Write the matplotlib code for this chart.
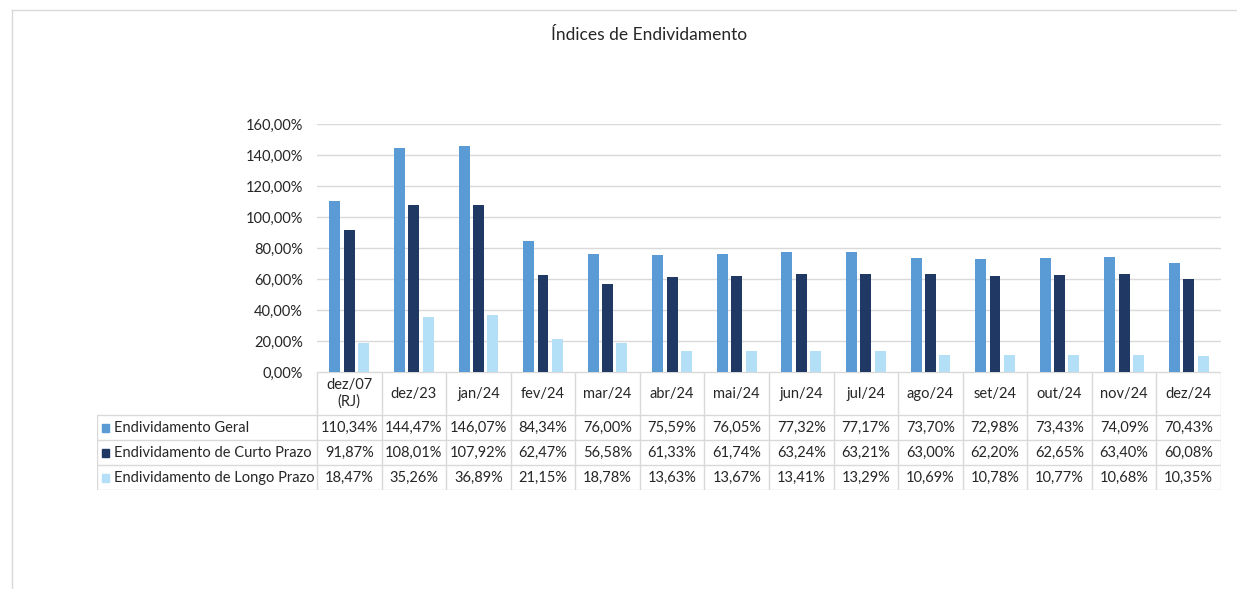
import numpy as np
import matplotlib.pyplot as plt
from matplotlib.patches import Rectangle
from matplotlib.lines import Line2D

meses = ["dez/07\n(RJ)", "dez/23", "jan/24", "fev/24", "mar/24", "abr/24", "mai/24",
         "jun/24", "jul/24", "ago/24", "set/24", "out/24", "nov/24", "dez/24"]
geral = [110.34, 144.47, 146.07, 84.34, 76.00, 75.59, 76.05, 77.32, 77.17, 73.70, 72.98, 73.43, 74.09, 70.43]
curto = [91.87, 108.01, 107.92, 62.47, 56.58, 61.33, 61.74, 63.24, 63.21, 63.00, 62.20, 62.65, 63.40, 60.08]
longo = [18.47, 35.26, 36.89, 21.15, 18.78, 13.63, 13.67, 13.41, 13.29, 10.69, 10.78, 10.77, 10.68, 10.35]
series = ["Endividamento Geral", "Endividamento de Curto Prazo", "Endividamento de Longo Prazo"]
cores = ["#5B9BD5", "#203864", "#B3E0F7"]
yticks = [0, 20, 40, 60, 80, 100, 120, 140, 160]


def fmt(v):
    return ("%.2f%%" % v).replace(".", ",")


W, H = 1237, 589
plt.rcParams["font.family"] = ["Lato", "DejaVu Sans"]
fig = plt.figure(figsize=(W / 100, H / 100), dpi=100)
txt = "#262626"
fs = 10.5

# moldura do gráfico
fig.add_artist(Line2D([12 / W, 1], [1 - 10 / H, 1 - 10 / H], color="#D9D9D9", lw=1))
fig.add_artist(Line2D([12 / W, 12 / W], [0, 1 - 10 / H], color="#D9D9D9", lw=1))

fig.text(649 / W, 1 - 35 / H, "Índices de Endividamento", ha="center", va="center",
         fontsize=12.5, color=txt)

x0, x1 = 317, 1221
ax = fig.add_axes([x0 / W, 1 - 372 / H, (x1 - x0) / W, (372 - 124) / H])
x = np.arange(len(meses))
bw = 0.17
passo = 0.222
for k, (vals, c) in enumerate(zip([geral, curto, longo], cores)):
    ax.bar(x + (k - 1) * passo, vals, width=bw, color=c, zorder=3)
ax.set_xlim(-0.5, len(meses) - 0.5)
ax.set_ylim(0, 160)
ax.set_yticks(yticks)
ax.set_yticklabels([fmt(v) for v in yticks], fontsize=fs, color=txt)
ax.tick_params(axis="y", length=0, pad=10)
ax.set_xticks([])
ax.grid(axis="y", color="#D9D9D9", lw=1, zorder=0)
for s in ax.spines.values():
    s.set_visible(False)

# tabela de dados
colw = (x1 - x0) / len(meses)
hdr = (317 - 97) / colw
tx0 = 97
tab = fig.add_axes([tx0 / W, 1 - 490 / H, (x1 - tx0) / W, (490 - 372) / H])
tab.set_xlim(-0.5 - hdr, len(meses) - 0.5)
tab.set_ylim(490, 372)
tab.axis("off")
lc = "#D9D9D9"
linhas = [372, 415, 440, 465, 490]
tab.plot([-0.5, len(meses) - 0.5], [372, 372], color=lc, lw=1)
for yy in linhas[1:]:
    tab.plot([-0.5 - hdr, len(meses) - 0.5], [yy, yy], color=lc, lw=1)
for i in range(len(meses) + 1):
    tab.plot([i - 0.5, i - 0.5], [372, 490], color=lc, lw=1)
tab.plot([-0.5 - hdr, -0.5 - hdr], [415, 490], color=lc, lw=1)

for i, m in enumerate(meses):
    tab.text(i, 393.5, m, ha="center", va="center", fontsize=fs, color=txt, linespacing=1.25)
for r, (nome, vals, c) in enumerate(zip(series, [geral, curto, longo], cores)):
    yc = (linhas[r + 1] + linhas[r + 2]) / 2
    tab.add_patch(Rectangle((-0.5 - hdr + 0.08, yc - 4), 0.11, 8, color=c))
    tab.text(-0.5 - hdr + 0.27, yc, nome, ha="left", va="center", fontsize=fs, color=txt)
    for i, v in enumerate(vals):
        tab.text(i, yc, fmt(v), ha="center", va="center", fontsize=fs, color=txt)

fig.savefig("out.png", dpi=100)
